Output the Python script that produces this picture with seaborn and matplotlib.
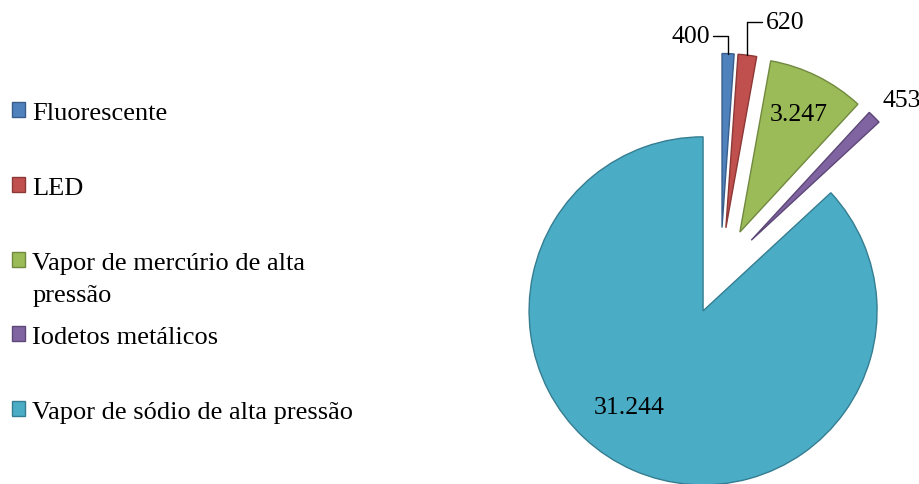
import numpy as np
import seaborn as sns
import matplotlib
matplotlib.use('Agg')
import matplotlib.pyplot as plt

# Lamp types and counts
categories = ['Fluorescente', 'LED', 'Vapor de mercúrio de alta pressão',
              'Iodetos metálicos', 'Vapor de sódio de alta pressão']
values = [400, 620, 3247, 453, 31244]
legend_first = ['Fluorescente', 'LED', 'Vapor de mercúrio de alta',
                'Iodetos metálicos', 'Vapor de sódio de alta pressão']
legend_second = 'pressão'

face_colors = ['#4F81BD', '#C0504D', '#9BBB59', '#8064A2', '#4BACC6']
edge_colors = ['#385D8A', '#8C3836', '#71893F', '#5C4776', '#357D91']

sns.set_theme(style='white')
plt.rcParams['font.family'] = ['Liberation Serif', 'DejaVu Serif']
plt.rcParams['text.color'] = 'black'

W, H = 919, 485
R = 174.0       # pie radius in pixels
CX, CY = 720.5, 272.0  # pie centre, pixels from top-left

fig = plt.figure(figsize=(W / 100, H / 100), dpi=100)
ax = fig.add_axes([0, 0, 1, 1])

pal = sns.color_palette(face_colors)
wedges, _ = ax.pie(values, colors=pal, startangle=90, counterclock=False,
                   explode=[0.25] * len(values), radius=1.0,
                   wedgeprops=dict(linewidth=1.0))
for w, ec in zip(wedges, edge_colors):
    w.set_edgecolor(ec)

ax.set_aspect('auto')
ax.set_xlim(-CX / R, (W - CX) / R)
ax.set_ylim(-(H - CY) / R, CY / R)
ax.axis('off')


def fmt(v):
    return f'{v:,}'.replace(',', '.')


def mid_dir(w):
    th = np.deg2rad((w.theta1 + w.theta2) / 2)
    return np.cos(th), np.sin(th)


# labels with leader lines (small slices)
leader_offsets = {0: (-27, 13), 1: (27, 24)}
for i, (dx, dy) in leader_offsets.items():
    w = wedges[i]
    c, s = mid_dir(w)
    x0, y0 = w.center
    ax.annotate(fmt(values[i]), xy=(x0 + c * w.r, y0 + s * w.r),
                xytext=(dx, dy), textcoords='offset points',
                ha='center', va='center', fontsize=18.5, color='black',
                arrowprops=dict(arrowstyle='-', color='black', lw=1.0,
                                shrinkA=0, shrinkB=0,
                                connectionstyle='angle,angleA=0,angleB=90'))

# other labels: (distance from wedge centre, angle shift in degrees)
label_place = {2: (0.76, 0), 3: (1.18, -2), 4: (0.70, -14)}
for i, (d, shift) in label_place.items():
    w = wedges[i]
    th = np.deg2rad((w.theta1 + w.theta2) / 2 + shift)
    x0, y0 = w.center
    ax.text(x0 + d * np.cos(th), y0 + d * np.sin(th), fmt(values[i]),
            ha='center', va='center', fontsize=18.5, color='black')

leg = fig.legend(wedges, legend_first, loc='upper left',
                 bbox_to_anchor=(12 / W, 1 - 103 / H), frameon=False,
                 fontsize=19, handlelength=0.5, handleheight=0.5,
                 handletextpad=0.27, labelspacing=2.0,
                 borderpad=0, borderaxespad=0, labelcolor='black')

fig.canvas.draw()
bb = leg.get_texts()[2].get_window_extent()
fig.text(bb.x0 / W, (bb.y0 - 32) / H, legend_second, fontsize=19,
         ha='left', va='bottom', color='black')

fig.savefig('out.png', dpi=100)
